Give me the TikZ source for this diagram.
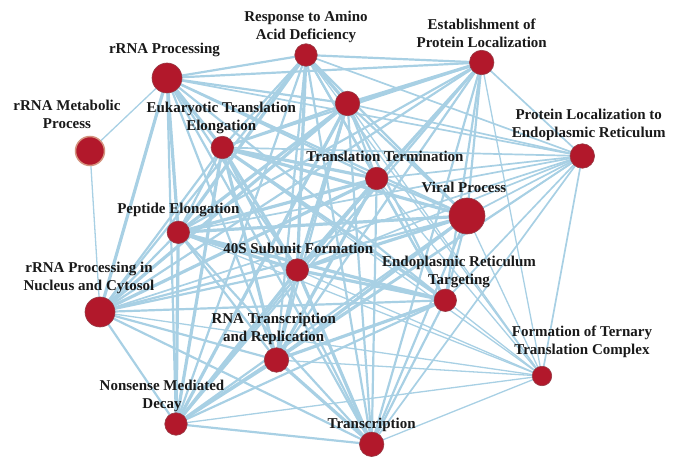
\documentclass[tikz,border=0pt]{standalone}
\usepackage{fontspec}
\setmainfont{Liberation Serif}
\usepackage{tkz-euclide}
\usepackage{tikz}
\usetikzlibrary{positioning}
\definecolor{edgeblue}{RGB}{168,208,228}
\definecolor{nodered}{RGB}{178,24,43}
\definecolor{noderim}{RGB}{150,60,70}
\definecolor{rimtan}{RGB}{212,146,126}
\tikzset{term/.style={font=\bfseries\fontsize{15}{18}\selectfont, align=center, inner sep=0pt, text=black!90}}

\begin{document}
\begin{tikzpicture}[x=1pt,y=1pt]
    \useasboundingbox (0,0) rectangle (681,456);
    \tkzDefPoint(167,378){RP}
    \tkzDefPoint(90,305){MP}
    \tkzDefPoint(306,401){RA}
    \tkzDefPoint(347.5,352.5){UN}
    \tkzDefPoint(481.7,393.5){EP}
    \tkzDefPoint(222.3,308.5){EU}
    \tkzDefPoint(582.3,300){PL}
    \tkzDefPoint(376.7,277.5){TT}
    \tkzDefPoint(467,240){VP}
    \tkzDefPoint(178.3,223.7){PE}
    \tkzDefPoint(297.3,186){FS}
    \tkzDefPoint(100,144){NC}
    \tkzDefPoint(445.3,155.7){ER}
    \tkzDefPoint(276.5,96){RT}
    \tkzDefPoint(542,80){TC}
    \tkzDefPoint(176,32){ND}
    \tkzDefPoint(371.7,11.7){TR}
    %thin links
    \tkzDrawSegments[line width=1.3pt, color=edgeblue](MP,RP MP,NC
        TC,NC TC,RA TC,UN TC,EP TC,EU TC,TT TC,VP TC,PE TC,FS TC,ER TC,RT TC,ND TC,TR)
    \tkzDrawSegments[line width=1.7pt, color=edgeblue](PL,RP PL,NC PL,RA PL,UN PL,EP
        PL,EU PL,TT PL,VP PL,PE PL,FS PL,ER PL,RT PL,TC PL,ND PL,TR)
    %medium links
    \tkzDrawSegments[line width=2.2pt, color=edgeblue](RP,RA RP,UN RP,EP RP,TT RP,VP
        RP,FS RP,ER RP,RT RP,ND RP,TR
        NC,RA NC,EP NC,EU NC,VP NC,PE NC,FS NC,ER NC,RT NC,ND NC,TR
        RA,EP RA,EU RA,TT RA,VP RA,ER RA,RT RA,ND RA,TR
        UN,EU UN,TT UN,VP UN,ER UN,RT UN,TR
        EP,EU EP,TT EP,VP EP,PE EP,FS EP,ER EP,RT EP,ND EP,TR
        EU,PE EU,TR TT,VP TT,ER TT,ND TT,TR VP,ER VP,ND VP,TR
        PE,RT PE,TR ER,ND ER,TR ND,TR)
    %thick links
    \tkzDrawSegments[line width=3.2pt, color=edgeblue](RP,NC RP,PE RP,EU NC,UN NC,TT
        RA,PE RA,FS RA,UN UN,EP UN,PE UN,FS UN,ND
        EU,FS EU,TT EU,ER EU,VP EU,RT EU,ND
        TT,PE TT,FS TT,RT VP,FS VP,PE VP,RT
        PE,FS PE,ER PE,ND FS,ER FS,ND FS,TR FS,RT
        ER,RT RT,ND RT,TR)
    \tkzDrawPoints[size=36, fill=nodered, draw=noderim, line width=0.6pt](VP)
    \tkzDrawPoints[size=30, fill=nodered, draw=noderim, line width=0.6pt](RP,NC)
    \tkzDrawPoints[size=29, fill=nodered, draw=rimtan, line width=1.5pt](MP)
    \tkzDrawPoints[size=24.5, fill=nodered, draw=noderim, line width=0.6pt](UN,EP,PL,RT,TR)
    \tkzDrawPoints[size=22.5, fill=nodered, draw=noderim, line width=0.6pt](RA,EU,TT,PE,FS,ER,ND)
    \tkzDrawPoints[size=19.5, fill=nodered, draw=noderim, line width=0.6pt](TC)
    \node[term, above=20.7pt of RP, xshift=-2.5pt] (lRP) {rRNA Processing};
    \node[term, above=21.7pt of MP, xshift=-23pt] (lMP) {rRNA Metabolic\\Process};
    \node[term, above=12.4pt of RA] (lRA) {Response to Amino\\Acid Deficiency};
    \node[term, above=14.4pt of EP] (lEP) {Establishment of\\Protein Localization};
    \node[term, above=13.4pt of EU, xshift=-1pt] (lEU) {Eukaryotic Translation\\Elongation};
    \node[term, above=15.4pt of PL, xshift=6.4pt] (lPL) {Protein Localization to\\Endoplasmic Reticulum};
    \node[term, above=16.6pt of TT, xshift=8.3pt] (lTT) {Translation Termination};
    \node[term, above=23.3pt of VP, xshift=-3pt] (lVP) {Viral Process};
    \node[term, above=14.7pt of PE] (lPE) {Peptide Elongation};
    \node[term, above=15.7pt of FS, xshift=1pt] (lFS) {40S Subunit Formation};
    \node[term, above=17.7pt of NC, xshift=-11pt] (lNC) {rRNA Processing in\\Nucleus and Cytosol};
    \node[term, above=12.1pt of ER, xshift=13.7pt] (lER) {Endoplasmic Reticulum\\Targeting};
    \node[term, above=15pt of RT, xshift=-2.8pt] (lRT) {RNA Transcription\\and Replication};
    \node[term, above=18.4pt of TC, xshift=40pt] (lTC) {Formation of Ternary\\Translation Complex};
    \node[term, above=12pt of ND, xshift=-14pt] (lND) {Nonsense Mediated\\Decay};
    \node[term, above=12.7pt of TR] (lTR) {Transcription};
\end{tikzpicture}
\end{document}
